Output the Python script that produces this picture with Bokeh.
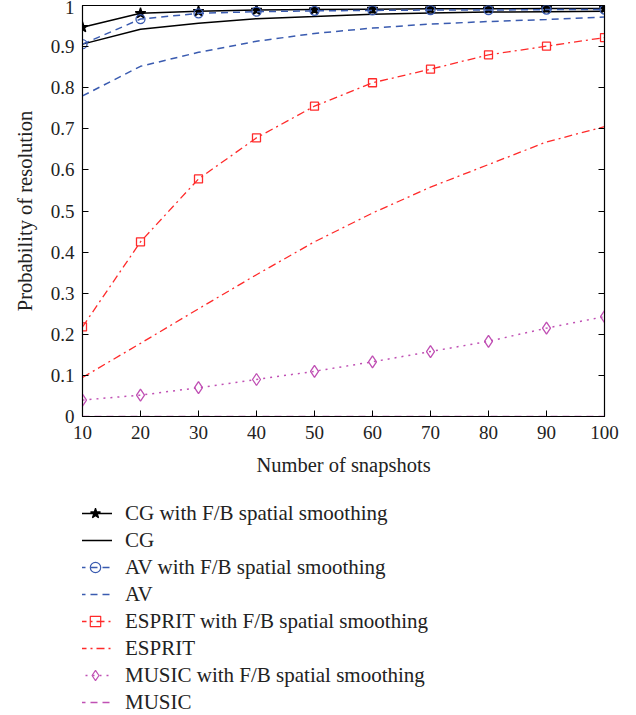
from bokeh.plotting import figure
from bokeh.layouts import column
from bokeh.models import Legend, LegendItem, LinearAxis, FixedTicker, CustomJSTickFormatter, Range1d
from bokeh.embed import file_html
from bokeh.resources import INLINE

snapshots = [10, 20, 30, 40, 50, 60, 70, 80, 90, 100]
cg_fb = [0.947, 0.981, 0.986, 0.989, 0.990, 0.991, 0.992, 0.992, 0.993, 0.993]
cg = [0.906, 0.942, 0.957, 0.968, 0.973, 0.979, 0.982, 0.984, 0.985, 0.986]
av_fb = [0.906, 0.967, 0.981, 0.985, 0.987, 0.988, 0.989, 0.989, 0.990, 0.990]
av = [0.780, 0.852, 0.886, 0.913, 0.932, 0.945, 0.955, 0.961, 0.966, 0.972]
esprit_fb = [0.218, 0.425, 0.578, 0.678, 0.755, 0.812, 0.845, 0.880, 0.901, 0.922]
esprit = [0.095, 0.178, 0.262, 0.345, 0.425, 0.495, 0.558, 0.613, 0.668, 0.705]
music_fb = [0.040, 0.052, 0.070, 0.090, 0.110, 0.133, 0.158, 0.183, 0.215, 0.243]
music = [0, 0, 0, 0, 0, 0, 0, 0, 0, 0]
y_ticks = [0, 0.1, 0.2, 0.3, 0.4, 0.5, 0.6, 0.7, 0.8, 0.9, 1.0]

labels = ["CG with F/B spatial smoothing", "CG", "AV with F/B spatial smoothing", "AV",
          "ESPRIT with F/B spatial smoothing", "ESPRIT", "MUSIC with F/B spatial smoothing", "MUSIC"]

FONT = "Liberation Serif"
BLACK = "#000000"
BLUE = "#3a5bb0"
RED = "#ff2a2a"
MAG = "#c050b4"

styles = [
    dict(color=BLACK, width=1.5, dash="solid", marker="star", size=11, fill=BLACK),
    dict(color=BLACK, width=1.5, dash="solid", marker=None),
    dict(color=BLUE, width=1.5, dash="7 5", marker="circle", size=9, fill=None),
    dict(color=BLUE, width=1.5, dash="7 5", marker=None),
    dict(color=RED, width=1.3, dash="8 4 2 4", marker="square", size=8, fill=None),
    dict(color=RED, width=1.3, dash="8 4 2 4", marker=None),
    dict(color=MAG, width=1.5, dash="2 5", marker="diamond", size=12, fill=None),
    dict(color=MAG, width=1.5, dash="7 5", marker=None),
]
series = [cg_fb, cg, av_fb, av, esprit_fb, esprit, music_fb, music]

p = figure(width=636, height=490, output_backend="svg", toolbar_location=None,
           x_range=(10, 100), y_range=(0, 1),
           min_border_left=82, min_border_right=32, min_border_top=5, min_border_bottom=74)
p.xgrid.visible = False
p.ygrid.visible = False
p.outline_line_color = "black"
p.outline_line_width = 1.2

# legend-only panel: same series drawn outside its visible range, only the legend shows
leg = figure(width=636, height=225, output_backend="svg", toolbar_location=None,
             x_range=Range1d(-300, -200), y_range=Range1d(0, 1),
             x_axis_location=None, y_axis_location=None,
             min_border=0, min_border_left=0, min_border_right=0, min_border_top=0, min_border_bottom=0)
leg.grid.visible = False
leg.outline_line_color = None

items = []
for ys, st, lab in zip(series, styles, labels):
    p.line(snapshots, ys, line_color=st["color"], line_width=st["width"], line_dash=st["dash"])
    lr = leg.line(snapshots, ys, line_color=st["color"], line_width=st["width"], line_dash=st["dash"])
    rends = [lr]
    if st["marker"]:
        p.scatter(snapshots, ys, marker=st["marker"], size=st["size"], fill_color=st["fill"],
                  line_color=st["color"], line_width=1.3)
        lm = leg.scatter(snapshots, ys, marker=st["marker"], size=st["size"] * 0.8, fill_color=st["fill"],
                         line_color=st["color"], line_width=1.2)
        rends.append(lm)
    items.append(LegendItem(label=lab, renderers=rends))

for ax in [p.xaxis[0], p.yaxis[0]]:
    ax.major_tick_in = 6
    ax.major_tick_out = 0
    ax.minor_tick_in = 0
    ax.minor_tick_out = 0
    ax.axis_line_color = "black"
    ax.major_label_text_font = FONT
    ax.major_label_text_font_size = "19px"
    ax.major_label_text_color = "#222222"
    ax.axis_label_text_font = FONT
    ax.axis_label_text_font_size = "20.5px"
    ax.axis_label_text_font_style = "normal"
    ax.axis_label_text_color = "#222222"

p.xaxis.ticker = FixedTicker(ticks=snapshots)
p.yaxis.ticker = FixedTicker(ticks=y_ticks)
p.yaxis.major_label_overrides = {0: "0", 1: "1"}
p.xaxis.axis_label = "Number of snapshots"
p.yaxis.axis_label = "Probability of resolution"
p.xaxis.major_label_standoff = 9
p.xaxis.axis_label_standoff = 12
p.yaxis.major_label_standoff = 8
p.yaxis.axis_label_standoff = 12

ra = LinearAxis(ticker=FixedTicker(ticks=y_ticks),
                major_tick_in=6, major_tick_out=0, minor_tick_in=0, minor_tick_out=0,
                formatter=CustomJSTickFormatter(code="return ''"), major_label_standoff=0)
p.add_layout(ra, "right")

legend = Legend(items=items, location=(-4, 0), label_text_font=FONT,
                label_text_font_size="21px", label_text_color="#222222",
                label_height=26, glyph_height=26, glyph_width=34, label_standoff=13,
                spacing=1, padding=0, margin=0, border_line_color=None,
                background_fill_alpha=0)
leg.add_layout(legend, "center")

layout = column(p, leg, spacing=0)
open("out.html", "w").write(file_html(layout, INLINE))
